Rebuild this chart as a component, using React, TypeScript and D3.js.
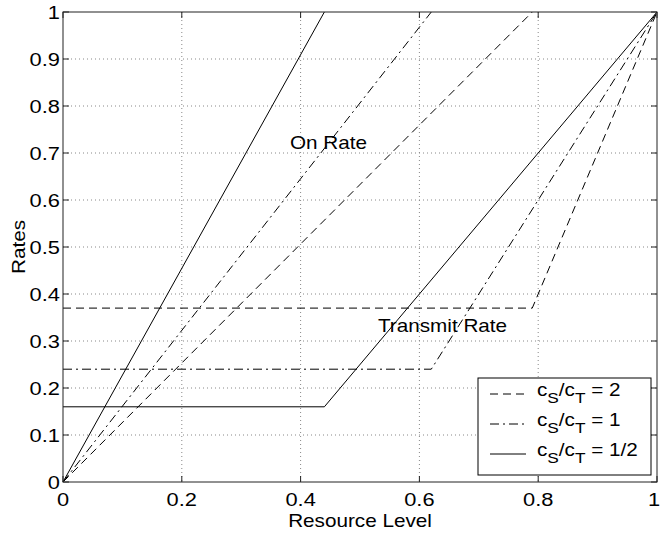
import React from 'react';
import * as d3 from 'd3';

const W = 661;
const H = 533;
const plot = { left: 63, top: 12, right: 657, bottom: 482 };

const xTicks = [0, 0.2, 0.4, 0.6, 0.8, 1];
const xTickLabels = ['0', '0.2', '0.4', '0.6', '0.8', '1'];
const yTicks = [0, 0.1, 0.2, 0.3, 0.4, 0.5, 0.6, 0.7, 0.8, 0.9, 1];
const yTickLabels = ['0', '0.1', '0.2', '0.3', '0.4', '0.5', '0.6', '0.7', '0.8', '0.9', '1'];

const ratioLabels = ['2', '1', '1/2'];
const onRateX = [[0, 0.79], [0, 0.62], [0, 0.44]];
const onRateY = [[0, 1], [0, 1], [0, 1]];
const transmitX = [[0, 0.79, 1], [0, 0.62, 1], [0, 0.44, 1]];
const transmitY = [[0.37, 0.37, 1], [0.24, 0.24, 1], [0.16, 0.16, 1]];
const dashes = ['8,5', '9,4,2,4', 'none'];

const FONT = '"Liberation Sans", Arial, Helvetica, sans-serif';
const SX = 1.15;

function T({ x, y, anchor = 'start', size = 18, rotate = 0, children }: any) {
  return (
    <g transform={`translate(${x},${y}) rotate(${rotate}) scale(${SX},1)`}>
      <text textAnchor={anchor} fontSize={size} fontFamily={FONT} fill="#000">
        {children}
      </text>
    </g>
  );
}

export default function App() {
  const x = d3.scaleLinear().domain([0, 1]).range([plot.left, plot.right]);
  const y = d3.scaleLinear().domain([0, 1]).range([plot.bottom, plot.top]);
  const line = d3
    .line<[number, number]>()
    .x((d) => x(d[0]))
    .y((d) => y(d[1]));
  const tickLen = 6;

  return (
    <svg
      width={W}
      height={H}
      style={{ position: 'absolute', left: 0, top: 0, background: '#fff' }}
    >
      <rect x={0} y={0} width={W} height={H} fill="#fff" />
      {xTicks.slice(1, -1).map((t) => (
        <line key={'gx' + t} x1={x(t)} x2={x(t)} y1={plot.top} y2={plot.bottom}
          stroke="#888" strokeWidth={1} strokeDasharray="1,3" />
      ))}
      {yTicks.slice(1, -1).map((t) => (
        <line key={'gy' + t} x1={plot.left} x2={plot.right} y1={y(t)} y2={y(t)}
          stroke="#888" strokeWidth={1} strokeDasharray="1,3" />
      ))}
      {ratioLabels.map((r, i) => (
        <g key={'s' + i} fill="none" stroke="#000" strokeWidth={1}
          strokeDasharray={dashes[i] === 'none' ? undefined : dashes[i]}>
          <path d={line(onRateX[i].map((v, j) => [v, onRateY[i][j]]) as any) || ''} />
          <path d={line(transmitX[i].map((v, j) => [v, transmitY[i][j]]) as any) || ''} />
        </g>
      ))}
      <rect x={plot.left} y={plot.top} width={plot.right - plot.left} height={plot.bottom - plot.top}
        fill="none" stroke="#222" strokeWidth={1} />
      {xTicks.map((t) => (
        <g key={'tx' + t} stroke="#222" strokeWidth={1}>
          <line x1={x(t)} x2={x(t)} y1={plot.bottom} y2={plot.bottom - tickLen} />
          <line x1={x(t)} x2={x(t)} y1={plot.top} y2={plot.top + tickLen} />
        </g>
      ))}
      {yTicks.map((t) => (
        <g key={'ty' + t} stroke="#222" strokeWidth={1}>
          <line x1={plot.left} x2={plot.left + tickLen} y1={y(t)} y2={y(t)} />
          <line x1={plot.right} x2={plot.right - tickLen} y1={y(t)} y2={y(t)} />
        </g>
      ))}
      {xTicks.map((t, i) => (
        <T key={'lx' + t} x={Math.min(x(t), 654)} y={506} anchor="middle" size={19}>{xTickLabels[i]}</T>
      ))}
      {yTicks.map((t, i) => (
        <T key={'ly' + t} x={plot.left - 3} y={y(t) + 7} anchor="end" size={19}>{yTickLabels[i]}</T>
      ))}
      <T x={(plot.left + plot.right) / 2} y={527} anchor="middle">Resource Level</T>
      <T x={25} y={(plot.top + plot.bottom) / 2} anchor="middle" rotate={-90}>Rates</T>
      <T x={290} y={149}>On Rate</T>
      <T x={378} y={332}>Transmit Rate</T>
      <g>
        <rect x={478} y={378} width={173} height={97} fill="#fff" stroke="#000" strokeWidth={1} />
        {ratioLabels.map((r, i) => {
          const by = 396 + i * 30;
          return (
            <g key={'lg' + i}>
              <line x1={490} x2={526} y1={by - 2} y2={by - 2} stroke="#000" strokeWidth={1}
                strokeDasharray={dashes[i] === 'none' ? undefined : dashes[i]} />
              <T x={537} y={by}>
                <tspan>c</tspan>
                <tspan fontSize={15} dy={7}>S</tspan>
                <tspan dy={-7}>/c</tspan>
                <tspan fontSize={15} dy={7}>T</tspan>
                <tspan dy={-7}>{' = ' + r}</tspan>
              </T>
            </g>
          );
        })}
      </g>
    </svg>
  );
}
